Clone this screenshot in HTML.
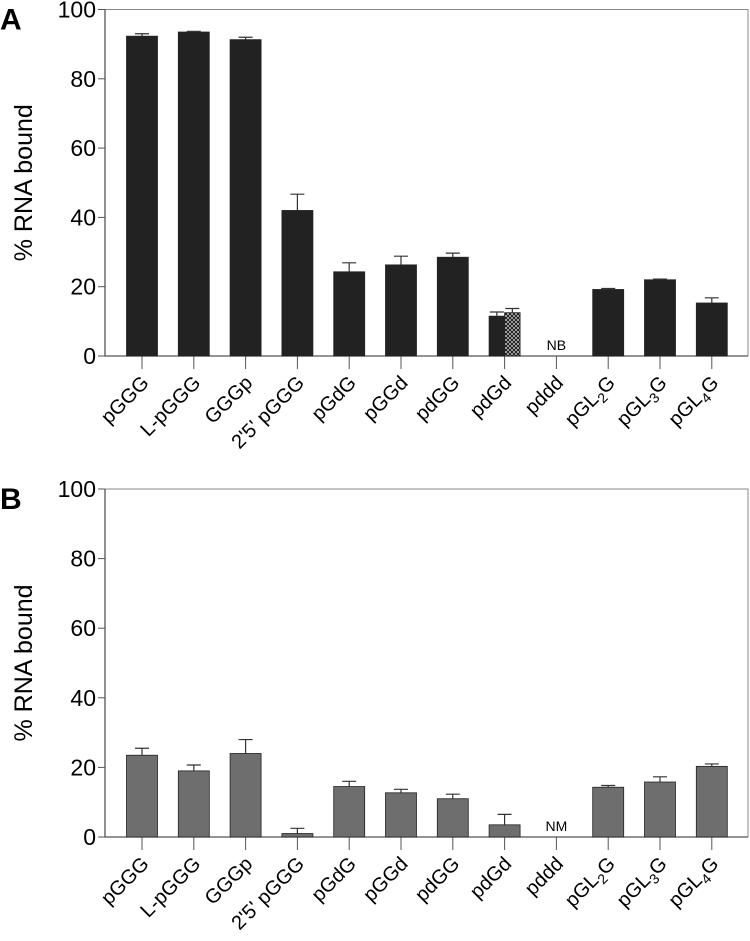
<!DOCTYPE html>
<html><head><meta charset="utf-8"><style>
body{margin:0;background:#fff;}
svg{display:block;font-family:"Liberation Sans",sans-serif;}
</style></head><body>
<svg id="c" width="750" height="941"></svg>
<script>
const categories=["pGGG","L-pGGG","GGGp","2'5' pGGG","pGdG","pGGd","pdGG","pdGd","pddd","pGL2G","pGL3G","pGL4G"];
const valuesA=[92.3,93.5,91.3,42,24.3,26.3,28.5,11.5,null,19.2,22,15.3];
const errorsA=[0.7,0.2,0.7,4.7,2.6,2.5,1.2,1.2,null,0.3,0.2,1.5];
const pdGdHatchA=12.5, pdGdHatchErrA=1.2;
const valuesB=[23.5,19,24,1,14.5,12.7,11,3.5,null,14.3,15.8,20.3];
const errorsB=[2,1.7,4,1.5,1.5,1,1.3,3,null,0.5,1.5,0.7];
const yTicks=[0,20,40,60,80,100];
const NS="http://www.w3.org/2000/svg";
const svg=document.getElementById('c');
function mk(t,a,p){const e=document.createElementNS(NS,t);for(const k in a)e.setAttribute(k,a[k]);(p||svg).appendChild(e);return e;}
const defs=mk('defs',{});
const pat=mk('pattern',{id:'hatch',width:4,height:4,patternUnits:'userSpaceOnUse'},defs);
mk('rect',{width:4,height:4,fill:'#ddd'},pat);
mk('path',{d:'M0,0L4,4M4,0L0,4',stroke:'#222','stroke-width':1.2},pat);
const x0=105,x1=748;
const xc=i=>142+i*51.8;
function panel(id,letter,yTop,yBot,vals,errs,color,missing){
  const g=mk('g',{});
  
  
  const y=v=>yBot-(v/100)*(yBot-yTop);
  const L=mk('text',{x:0,y:yTop+20,'font-size':30,'font-weight':'bold'},g);L.textContent=letter;
  
  mk('path',{d:`M${x0},${yTop}H${x1}V${yBot}`,stroke:'#888',fill:'none','stroke-width':1},g);
  const ax=mk('path',{d:`M${x0},${yTop}V${yBot}H${x1}`,stroke:'#555',fill:'none','stroke-width':1.3},g);
  
  yTicks.forEach(t=>{
    mk('line',{x1:x0-7,x2:x0,y1:y(t),y2:y(t),stroke:'#555'},g);
    const tx=mk('text',{x:x0-9,y:y(t)+8,'text-anchor':'end','font-size':23},g);tx.textContent=t;
    
  });
  const yt=mk('text',{transform:`translate(32,${(yTop+yBot)/2}) rotate(-90)`,'text-anchor':'middle','font-size':25},g);
  yt.textContent='% RNA bound';
  
  categories.forEach((c,i)=>{
    const cx=xc(i);
    mk('line',{x1:cx,x2:cx,y1:yBot,y2:yBot+13,stroke:'#555'},g);
    const lt=mk('text',{transform:`translate(${cx+8},${yBot+28}) rotate(-45)`,'text-anchor':'end','font-size':20},g);
    const m=c.match(/^pGL(\d)G$/);
    if(m){lt.appendChild(document.createTextNode('pGL'));const s=mk('tspan',{'font-size':14,dy:5},lt);s.textContent=m[1];const s2=mk('tspan',{dy:-5},lt);s2.textContent='G';}
    else lt.textContent=c;
    
    const v=vals[i];
    if(v===null){const t=mk('text',{x:cx,y:yBot-6,'text-anchor':'middle','font-size':14},g);t.textContent=missing;
      return;}
    const split=(id==='a'&&c==='pdGd');
    const w=split?15.5:31, bx=cx-15.5;
    const r=mk('rect',{x:bx,y:y(v),width:w,height:yBot-y(v),fill:color,stroke:'#222','stroke-width':0.8},g);
    
    const ex=bx+w/2, e=errs[i];
    mk('path',{d:`M${ex},${y(v)}V${y(v+e)}M${ex-7},${y(v+e)}H${ex+7}`,stroke:'#333','stroke-width':1.2,fill:'none'},g);
    if(split){
      const v2=pdGdHatchA,e2=pdGdHatchErrA;
      const r2=mk('rect',{x:cx,y:y(v2),width:15.5,height:yBot-y(v2),fill:'url(#hatch)',stroke:'#222','stroke-width':0.8},g);
      
      const ex2=cx+7.75;
      mk('path',{d:`M${ex2},${y(v2)}V${y(v2+e2)}M${ex2-7},${y(v2+e2)}H${ex2+7}`,stroke:'#333','stroke-width':1.2,fill:'none'},g);
    }
  });
}
panel('a','A',9.5,356,valuesA,errorsA,'#222222','NB');
panel('b','B',489,837,valuesB,errorsB,'#6e6e6e','NM');
</script>
</body></html>
